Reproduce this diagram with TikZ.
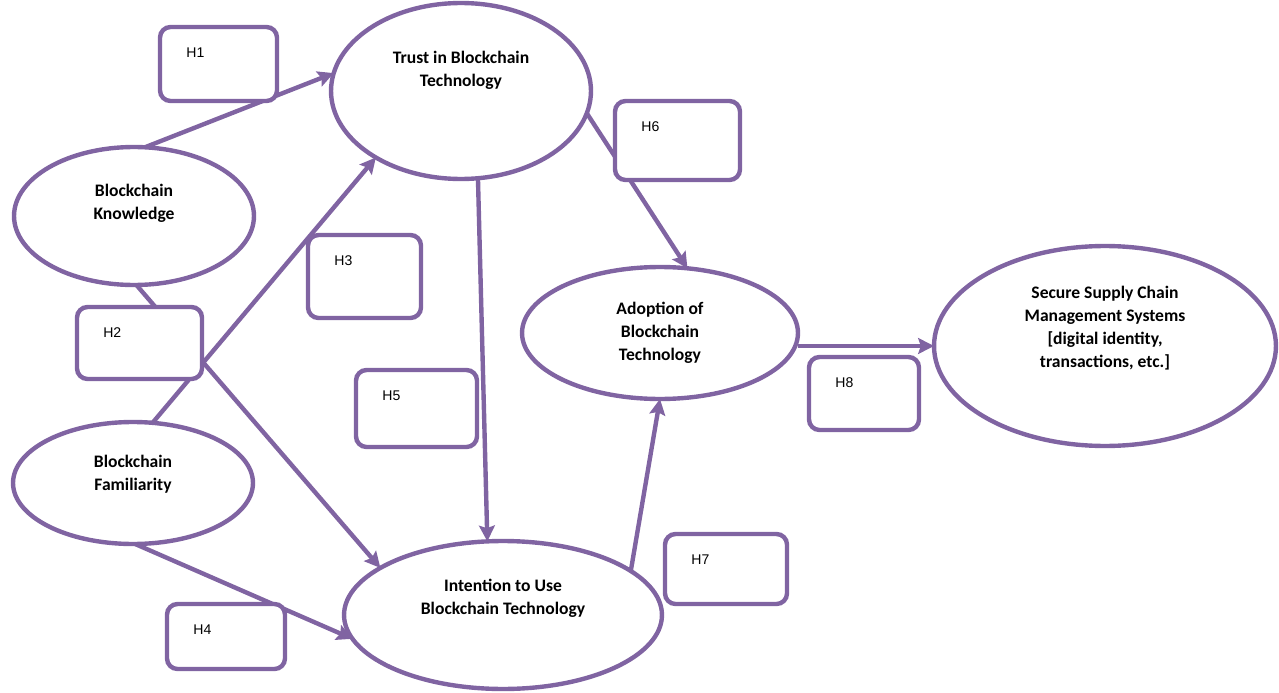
\documentclass[tikz,border=0pt]{standalone}
\usepackage{fontspec}
\setmainfont{Carlito}
\newfontfamily\hfont{Liberation Sans}
\usetikzlibrary{arrows.meta,shapes.geometric,fit,backgrounds}
\definecolor{hpurple}{HTML}{8064A2}

\begin{document}
\begin{tikzpicture}[x=0.02cm,y=-0.02cm,
    oval/.style={draw=hpurple,line width=2.5pt,ellipse,fill=white,inner sep=0pt,outer sep=0pt},
    hbox/.style={draw=hpurple,line width=2.5pt,rounded corners=6pt,fill=white,inner sep=0pt,outer sep=0pt},
    hlab/.style={anchor=west,inner sep=0pt,font=\hfont\fontsize{8}{9}\selectfont},
    otext/.style={align=center,inner sep=0pt,font=\bfseries\fontsize{10}{13}\selectfont},
    link/.style={draw=hpurple,line width=2.5pt,-{Stealth[length=9pt,width=9pt,inset=1.5pt]}}]
          \useasboundingbox (0,0) rectangle (1279,693);

          % constructs
          \node[oval,minimum width=5.2cm,minimum height=3.52cm] (T) at (461,91) {};
          \node[oval,minimum width=4.8cm,minimum height=2.76cm] (K) at (134,216) {};
          \node[oval,minimum width=4.8cm,minimum height=2.44cm] (F) at (133,483) {};
          \node[oval,minimum width=5.52cm,minimum height=2.64cm] (A) at (660,333) {};
          \node[oval,minimum width=6.84cm,minimum height=4cm] (S) at (1105,346) {};
          \node[oval,minimum width=6.36cm,minimum height=2.96cm] (I) at (503,615) {};

          \node[otext] (Tt) at (461,70) {Trust in Blockchain\\Technology};
          \node[otext] (Kt) at (134,203) {Blockchain\\Knowledge};
          \node[otext] (Ft) at (133,474) {Blockchain\\Familiarity};
          \node[otext] (At) at (660,333) {Adoption of\\Blockchain\\Technology};
          \node[otext] (St) at (1105,328) {Secure Supply Chain\\Management Systems\\{[}digital identity,\\transactions, etc.]};
          \node[otext] (It) at (503,598) {Intention to Use\\Blockchain Technology};

          % hypotheses
          \node[hbox,fit={(160,27) (277,101)}] (H1) {};
          \node[hbox,fit={(77,307) (202,379)}] (H2) {};
          \node[hbox,fit={(308,235) (421,318)}] (H3) {};
          \node[hbox,fit={(167,604) (285,669)}] (H4) {};
          \node[hbox,fit={(356,370) (477,447)}] (H5) {};
          \node[hbox,fit={(615,101) (740,180)}] (H6) {};
          \node[hbox,fit={(665,534) (787,604)}] (H7) {};
          \node[hbox,fit={(809,357) (919,430)}] (H8) {};
          \foreach \h in {1,...,8}
            \node[hlab] (H\h t) at ([shift={(26,26)}]H\h.north west) {H\h};

          \begin{scope}[on background layer]
          \draw[link] (K.81) -- (T.172);
          \draw[link] (F.72) -- (T.218);
          \draw[link] (K.272) -- (I.159);
          \draw[link] (F.272) -- (I.189);
          \draw[link] (T.281) -- (I.102);
          \draw[link] (T.350) -- (A.67);
          \draw[link] (I.19) -- (A.270);
          \draw[link] (A.east |- S.west) -- (S.west);
          \end{scope}
        \end{tikzpicture}
\end{document}
